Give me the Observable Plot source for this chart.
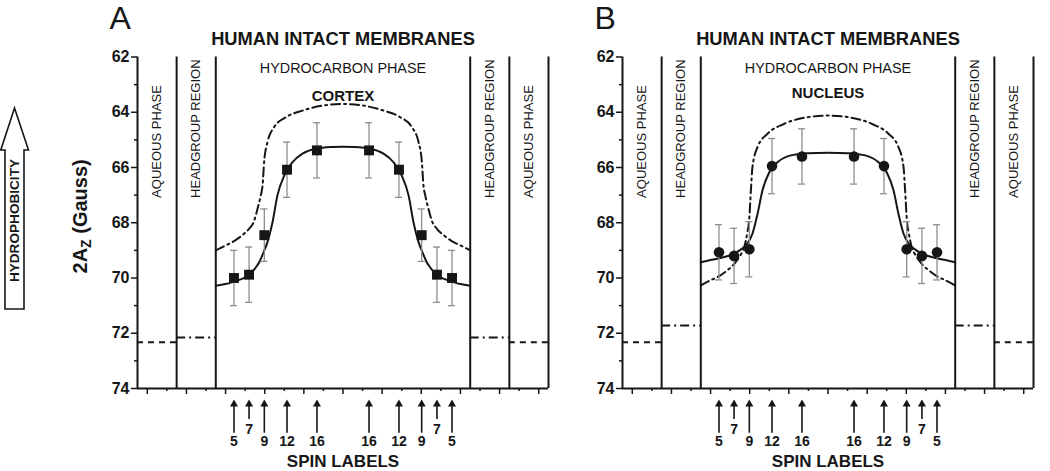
<!DOCTYPE html>
<html>
<head>
<meta charset="utf-8">
<script src="https://cdn.jsdelivr.net/npm/d3@7"></script>
<script src="https://cdn.jsdelivr.net/npm/@observablehq/plot@0.6"></script>
<style>
  html, body { margin: 0; padding: 0; background: #fff; }
  #wrap { display: flex; width: 1050px; height: 471px; overflow: hidden; }
  #wrap svg { display: block; }
  #wrap svg text { font-family: "Liberation Sans", Arial, Helvetica, sans-serif; }
  g[aria-label="y-axis tick label"] text { font-weight: bold; font-size: 16px; }
</style>
</head>
<body>
<div id="wrap"></div>
<script>
// ---------------- data ----------------
const spinLabels = ["5", "7", "9", "12", "16", "16", "12", "9", "7", "5"];
const spinDepth  = [-5.57, -4.8, -4.02, -2.86, -1.33, 1.33, 2.86, 4.02, 4.8, 5.57];

const cortexAz = [70.0, 69.88, 68.45, 66.08, 65.38, 65.38, 66.08, 68.45, 69.88, 70.0];
const cortexSd = [1.0, 1.0, 0.95, 1.0, 1.0, 1.0, 1.0, 0.95, 1.0, 1.0];
const nucleusAz = [69.07, 69.2, 68.96, 65.95, 65.6, 65.6, 65.95, 68.96, 69.2, 69.07];
const nucleusSd = [1.0, 1.0, 1.0, 1.0, 1.0, 1.0, 1.0, 1.0, 1.0, 1.0];

// fitted profile (solid) and simulated profile (dash-dot)
const cortexFit = [[-6.5,70.28],[-6.0,70.22],[-5.65,70.15],[-5.2,70.04],[-4.8,69.9],[-4.5,69.66],[-4.28,69.43],[-4.05,69.05],[-3.86,68.7],[-3.6,67.98],[-3.35,67.01],[-3.0,66.29],[-2.58,65.81],[-2.07,65.5],[-1.39,65.32],[-0.6,65.26],[0,65.25],[0.6,65.26],[1.39,65.32],[2.07,65.5],[2.58,65.81],[3.0,66.29],[3.35,67.01],[3.6,67.98],[3.86,68.7],[4.05,69.05],[4.28,69.43],[4.5,69.66],[4.8,69.9],[5.2,70.04],[5.65,70.15],[6.0,70.22],[6.5,70.28]];
const cortexSim = [[-6.5,69.0],[-6.0,68.82],[-5.65,68.7],[-5.2,68.48],[-4.8,68.22],[-4.55,67.95],[-4.37,67.5],[-4.2,67.0],[-4.11,66.65],[-4.03,65.8],[-3.86,65.08],[-3.52,64.54],[-2.92,64.18],[-2.07,63.94],[-1.05,63.76],[0,63.7],[1.05,63.76],[2.07,63.94],[2.92,64.18],[3.52,64.54],[3.86,65.08],[4.03,65.8],[4.11,66.65],[4.2,67.0],[4.37,67.5],[4.55,67.95],[4.8,68.22],[5.2,68.48],[5.65,68.7],[6.0,68.82],[6.5,69.0]];
const nucleusFit = [[-6.5,69.43],[-6.0,69.35],[-5.65,69.3],[-5.2,69.22],[-4.79,69.12],[-4.5,68.99],[-4.2,68.82],[-3.86,68.4],[-3.6,67.68],[-3.35,66.83],[-3.0,66.17],[-2.58,65.81],[-1.9,65.56],[-1.05,65.48],[0,65.47],[1.05,65.48],[1.9,65.56],[2.58,65.81],[3.0,66.17],[3.35,66.83],[3.6,67.68],[3.86,68.4],[4.2,68.82],[4.5,68.99],[4.79,69.12],[5.2,69.22],[5.65,69.3],[6.0,69.35],[6.5,69.43]];
const nucleusSim = [[-6.5,70.27],[-6.0,70.08],[-5.65,69.97],[-5.2,69.75],[-4.79,69.49],[-4.5,69.2],[-4.28,68.88],[-4.12,68.35],[-4.03,67.92],[-3.94,66.83],[-3.86,65.99],[-3.6,65.26],[-3.09,64.78],[-2.24,64.42],[-1.05,64.18],[0,64.12],[1.05,64.18],[2.24,64.42],[3.09,64.78],[3.6,65.26],[3.86,65.99],[3.94,66.83],[4.03,67.92],[4.12,68.35],[4.28,68.88],[4.5,69.2],[4.79,69.49],[5.2,69.75],[5.65,69.97],[6.0,70.08],[6.5,70.27]];

// membrane regions
const regionEdges = [-10.5, -8.5, -6.5, 6.5, 8.5, 10.5];
const regionNames = ["AQUEOUS PHASE", "HEADGROUP REGION", "HEADGROUP REGION", "AQUEOUS PHASE"];
const regionCenters = [-9.5, -7.5, 7.5, 9.5];
const aqueousSpans = [[-10.5, -8.5], [8.5, 10.5]];
const headgroupSpans = [[-8.5, -6.5], [6.5, 8.5]];
const cortexLevels = {aqueous: 72.33, headgroup: 72.15};
const nucleusLevels = {aqueous: 72.33, headgroup: 71.72};

// axis ticks
const majorY = [62, 64, 66, 68, 70, 72, 74];
const minorY = [63, 65, 67, 69, 71, 73];
const majorX = [-10, -8, -6, -4, -2, 0, 2, 4, 6, 8, 10];
const minorX = [-9, -7, -5, -3, -1, 1, 3, 5, 7, 9];

// ---------------- drawing ----------------
const ink = "#161616";
const grey = "#8e8e8e";
const dashDot = "9,4,2,4";

function panel(cfg) {
  const rows = spinDepth.map((x, i) => ({x, y: cfg.az[i], sd: cfg.sd[i], label: spinLabels[i]}));
  const regions = regionNames.map((name, i) => ({name, x: regionCenters[i]}));
  const marks = [
    // region boundaries & frame
    Plot.ruleX(regionEdges, {y1: 62, y2: 74, stroke: ink, strokeWidth: 2}),
    Plot.ruleY([74], {x1: -10.5, x2: 10.5, stroke: ink, strokeWidth: 2}),
    // axes
    Plot.axisY({ticks: majorY, tickSize: 6, tickPadding: 2, label: null, fontSize: 16, fontWeight: "bold", color: ink, strokeWidth: 1.5}),
    Plot.axisY({ticks: minorY, tickSize: 3, tickFormat: () => "", label: null, color: ink, strokeWidth: 1.5}),
    Plot.axisX({ticks: majorX, tickSize: 6, tickFormat: () => "", label: null, color: ink, strokeWidth: 1.5}),
    Plot.axisX({ticks: minorX, tickSize: 3, tickFormat: () => "", label: null, color: ink, strokeWidth: 1.5}),
    // levels in aqueous and headgroup regions
    Plot.ruleY(aqueousSpans, {y: cfg.levels.aqueous, x1: d => d[0], x2: d => d[1], stroke: ink, strokeWidth: 2, strokeDasharray: "6,5"}),
    Plot.ruleY(headgroupSpans, {y: cfg.levels.headgroup, x1: d => d[0], x2: d => d[1], stroke: ink, strokeWidth: 2, strokeDasharray: dashDot}),
    // profiles
    Plot.line(cfg.sim, {x: d => d[0], y: d => d[1], curve: "monotone-x", stroke: ink, strokeWidth: 2, strokeDasharray: dashDot}),
    Plot.line(cfg.fit, {x: d => d[0], y: d => d[1], curve: "monotone-x", stroke: ink, strokeWidth: 2}),
    // error bars
    Plot.ruleX(rows, {x: "x", y1: d => d.y - d.sd, y2: d => d.y + d.sd, stroke: grey, strokeWidth: 1.3}),
    Plot.ruleY(rows, {y: d => d.y - d.sd, x1: d => d.x - 0.18, x2: d => d.x + 0.18, stroke: grey, strokeWidth: 1.3}),
    Plot.ruleY(rows, {y: d => d.y + d.sd, x1: d => d.x - 0.18, x2: d => d.x + 0.18, stroke: grey, strokeWidth: 1.3}),
    Plot.dot(rows, {x: "x", y: "y", symbol: cfg.symbol, r: cfg.r, fill: ink, stroke: "none"}),
    // spin-label arrows
    Plot.ruleX(rows, {x: "x", y1: 74.6, y2: d => d.label === "7" ? 75.12 : 75.62, stroke: ink, strokeWidth: 1.6}),
    Plot.dot(rows, {x: "x", y: 74.57, symbol: "triangle", r: 3, fill: ink, stroke: "none"}),
    Plot.text(rows, {x: "x", y: d => d.label === "7" ? 75.48 : 75.92, text: "label", fontSize: 14, fontWeight: "bold", fill: ink, lineAnchor: "middle"}),
    Plot.text(["SPIN LABELS"], {x: 0, y: 76.64, text: d => d, fontSize: 17, fontWeight: "bold", fill: ink, lineAnchor: "middle"}),
    // region labels
    Plot.text(regions, {x: "x", y: 67.1, text: "name", rotate: -90, textAnchor: "start", lineAnchor: "middle", fontSize: 13, fill: ink}),
    Plot.text(["HYDROCARBON PHASE"], {x: 0, y: 62.4, text: d => d, fontSize: 14.4, fill: ink, lineAnchor: "middle"}),
    Plot.text([cfg.tissue], {x: 0, y: cfg.tissueY, text: d => d, fontSize: 15, fontWeight: "bold", fill: ink, lineAnchor: "middle"}),
    // titles
    Plot.text(["HUMAN INTACT MEMBRANES"], {x: 0, y: 61.37, text: d => d, fontSize: 18.3, fontWeight: "bold", fill: ink, lineAnchor: "middle"}),
    Plot.text([cfg.letter], {x: -11.38, y: 60.62, text: d => d, fontSize: 32, fill: ink, lineAnchor: "middle"})
  ];
  if (cfg.yLabel) {
    marks.push(
      Plot.text(["2AZ (Gauss)"], {x: -13.41, y: 67.77, text: d => d, rotate: -90, fontSize: 20, fontWeight: "bold", fill: ink, lineAnchor: "middle"}),
      Plot.text(["HYDROPHOBICITY"], {x: -16.76, y: 67.92, text: d => d, rotate: -90, fontSize: 13.6, fontWeight: "bold", fill: ink, lineAnchor: "middle"})
    );
  }
  return Plot.plot({
    width: cfg.width,
    height: 471,
    marginLeft: cfg.marginLeft,
    marginRight: cfg.marginRight,
    marginTop: 56.5,
    marginBottom: 83,
    style: {background: "#fff", fontFamily: "Liberation Sans, Arial, Helvetica, sans-serif", overflow: "visible"},
    x: {domain: [-10.5, 10.5]},
    y: {domain: [62, 74], reverse: true},
    marks
  });
}

const plotA = panel({letter: "A", tissue: "CORTEX", tissueY: 63.43, az: cortexAz, sd: cortexSd, fit: cortexFit, sim: cortexSim, levels: cortexLevels, symbol: "square", r: 5.6, width: 560, marginLeft: 137, marginRight: 12, yLabel: true});
const plotB = panel({letter: "B", tissue: "NUCLEUS", tissueY: 63.32, az: nucleusAz, sd: nucleusSd, fit: nucleusFit, sim: nucleusSim, levels: nucleusLevels, symbol: "circle", r: 5.3, width: 490, marginLeft: 62, marginRight: 17, yLabel: false});

const wrap = document.getElementById("wrap");
wrap.appendChild(plotA);
wrap.appendChild(plotB);

// subscript Z in the y label
d3.select(plotA).selectAll("text").filter(function () { return this.textContent === "2AZ (Gauss)"; })
  .each(function () {
    const t = d3.select(this);
    t.text(null);
    t.append("tspan").text("2A");
    t.append("tspan").attr("font-size", "14px").attr("dy", "4").text("Z");
    t.append("tspan").attr("dy", "-4").text(" (Gauss)");
  });

// hollow "hydrophobicity" arrow behind its label
d3.select(plotA).insert("path", "g")
  .attr("d", "M14.5,108 L28.5,150 L24,150 L24,309 L5,309 L5,150 L0.8,150 Z")
  .attr("fill", "#fff").attr("stroke", ink).attr("stroke-width", 1.6).attr("stroke-linejoin", "miter");
</script>
</body>
</html>
